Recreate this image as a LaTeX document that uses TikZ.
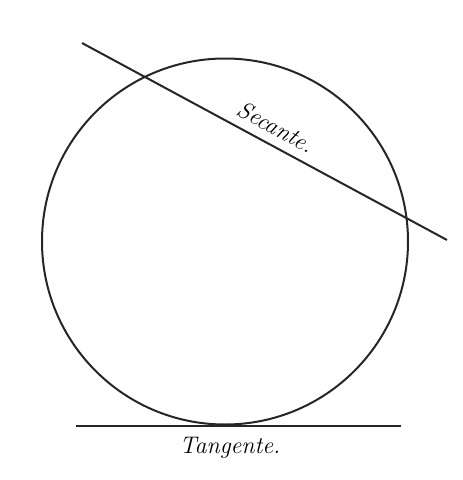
\documentclass[tikz,border=0pt]{standalone}
\begin{document}
\begin{tikzpicture}[x=1pt,y=-1pt,
  stroke/.style={line width=2pt,black!85},
  lbl/.style={font=\fontsize{24}{27}\selectfont\itshape,inner sep=0pt}]
\useasboundingbox (0,0) rectangle (463,480);
\node[circle,draw,stroke,minimum size=366pt,inner sep=0pt] (circ) at (225,241.5) {};
\coordinate (s1) at (82,43);
\coordinate (s2) at (447,240);
\coordinate (t1) at (76,426);
\coordinate (t2) at (401,426);
\draw[stroke] (s1) -- (s2);
\draw[stroke] (t1) -- (t2);
\node[lbl,rotate=-28.4] (sec) at (276,127) {Secante.};
\node[lbl] (tan) at (230,448) {Tangente.};
\end{tikzpicture}
\end{document}
